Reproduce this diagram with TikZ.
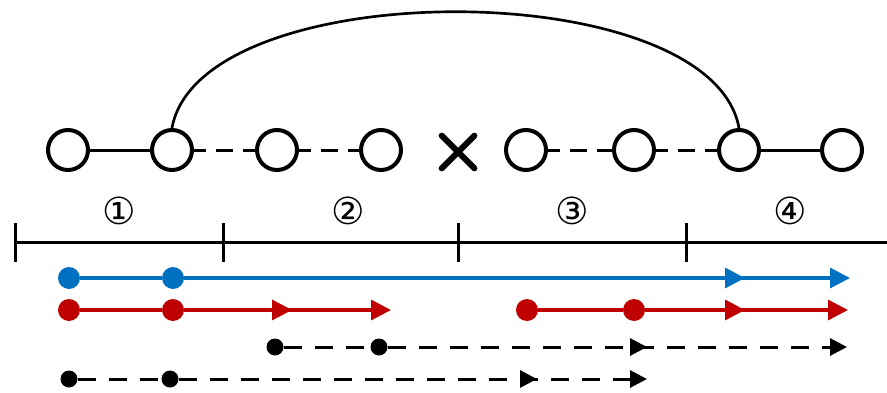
\documentclass[tikz,border=0pt]{standalone}
\usepackage{fontspec}
\newfontfamily\circfont{DejaVu Sans}
\usetikzlibrary{arrows.meta,shapes.misc}
\definecolor{segblue}{RGB}{0,112,192}
\definecolor{segred}{RGB}{192,0,0}

\begin{document}
\begin{tikzpicture}[x=0.75pt,y=-0.75pt,
    vertex/.style={circle,draw,line width=3pt,minimum size=30pt,inner sep=0pt,fill=white},
    link/.style={line width=2.25pt},
    dlink/.style={line width=2.25pt,dash pattern=on 12.75pt off 7.5pt,dash phase=3.75pt},
    bigdot/.style={circle,fill,inner sep=0pt,minimum size=16.5pt},
    smalldot/.style={circle,fill,inner sep=0pt,minimum size=12.75pt},
    seg/.style={line width=2.5pt},
    segarrow/.style={seg,-{Triangle[length=15pt,width=15pt]}},
    walk/.style={line width=2.25pt,dash pattern=on 13.5pt off 9.75pt},
    walkarrow/.style={walk,-{Triangle[length=12.75pt,width=12.75pt]}},
    axis/.style={line width=2.25pt},
    part/.style={font=\circfont\fontsize{28}{30}\selectfont,inner sep=0pt}]
    \useasboundingbox (0,0) rectangle (887,392);

    % the chain of vertices
    \node[vertex] (c1) at (68,150) {};
    \node[vertex] (c2) at (172,150) {};
    \node[vertex] (c3) at (277,150) {};
    \node[vertex] (c4) at (381,150) {};
    \node[cross out,draw,line width=4.5pt,line cap=round,minimum size=20pt,inner sep=0pt] (cut) at (458,152) {};
    \node[vertex] (c5) at (526,150) {};
    \node[vertex] (c6) at (634,150) {};
    \node[vertex] (c7) at (739,150) {};
    \node[vertex] (c8) at (842,150) {};
    \draw[link] (c1) -- (c2);
    \draw[dlink] (c2) -- (c3);
    \draw[dlink] (c3) -- (c4);
    \draw[dlink] (c5) -- (c6);
    \draw[dlink] (c6) -- (c7);
    \draw[link] (c7) -- (c8);
    \draw[line width=2pt] (c2.north) .. controls (200,-27) and (711,-27) .. (c7.north);

    % parts
    \node[part] (p1) at (119,211) {①};
    \node[part] (p2) at (348,211) {②};
    \node[part] (p3) at (572,211) {③};
    \node[part] (p4) at (790,211) {④};

    % time axis
    \coordinate (t0) at (15,242);
    \coordinate (tend) at (887,242);
    \draw[axis] (t0) -- (tend);
    \foreach \x in {15,223,458,686}
        \draw[axis] (\x,223) -- (\x,262);

    % blue
    \node[bigdot,segblue] (b1) at (69,278) {};
    \node[bigdot,segblue] (b2) at (173,278) {};
    \coordinate (b3) at (745,278);
    \coordinate (b4) at (850,278);
    \draw[seg,segblue] (b1) -- (b2);
    \draw[segarrow,segblue] (b2) -- (b4);
    \draw[segarrow,segblue] (b2) -- (b3);

    % red
    \node[bigdot,segred] (r1) at (69,310) {};
    \node[bigdot,segred] (r2) at (173,310) {};
    \coordinate (r3) at (292,310);
    \coordinate (r4) at (391,310);
    \draw[seg,segred] (r1) -- (r2);
    \draw[segarrow,segred] (r2) -- (r4);
    \draw[segarrow,segred] (r2) -- (r3);
    \node[bigdot,segred] (r5) at (527,310) {};
    \node[bigdot,segred] (r6) at (634,310) {};
    \coordinate (r7) at (745,310);
    \coordinate (r8) at (848,310);
    \draw[seg,segred] (r5) -- (r6);
    \draw[segarrow,segred] (r6) -- (r8);
    \draw[segarrow,segred] (r6) -- (r7);

    % black
    \node[smalldot] (k1) at (275,347) {};
    \node[smalldot] (k2) at (379,347) {};
    \coordinate (k3) at (647,347);
    \coordinate (k4) at (847,347);
    \draw[walk] (k1) -- (k2);
    \draw[walkarrow] (k2) -- (k4);
    \draw[walkarrow] (k2) -- (k3);
    \node[smalldot] (k5) at (69,379) {};
    \node[smalldot] (k6) at (170,379) {};
    \coordinate (k7) at (537,379);
    \coordinate (k8) at (647,379);
    \draw[walk] (k5) -- (k6);
    \draw[walkarrow] (k6) -- (k8);
    \draw[walkarrow] (k6) -- (k7);
\end{tikzpicture}
\end{document}
